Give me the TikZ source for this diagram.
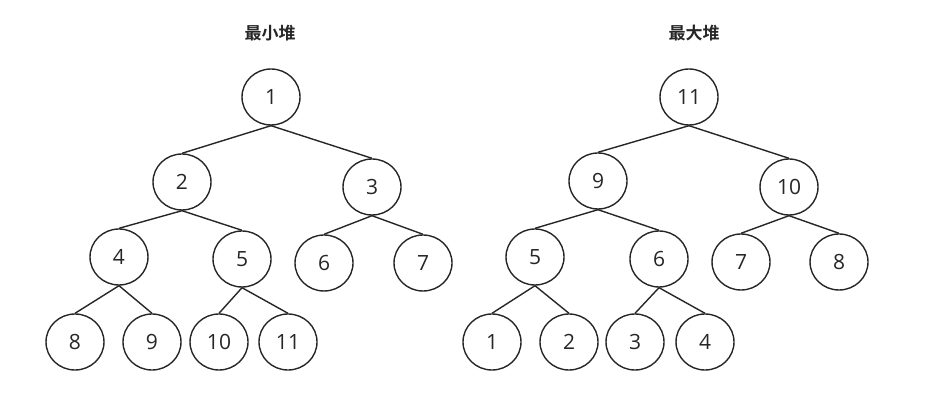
\documentclass[tikz,border=0pt]{standalone}
\usepackage{fontspec}
\setmainfont{Open Sans}
\newfontfamily\cjk{Noto Sans CJK SC}[BoldFont={Noto Sans CJK SC Bold}]
\usetikzlibrary{shapes.geometric}

\begin{document}
\begin{tikzpicture}[
  x=1pt, y=-1pt,
  key/.style={draw=black!85,ellipse,line width=1.4pt,minimum width=58pt,
              minimum height=56pt,inner sep=0pt,
              font=\fontsize{21}{21}\selectfont,text=black!85},
  title/.style={font=\cjk\bfseries\fontsize{17}{17}\selectfont,text=black!85},
  edge/.style={draw=black!85,line width=1.4pt}
]
\useasboundingbox (0,0) rectangle (931,419);
% min heap
\node[title] (mintitle) at (270,33) {最小堆};
\node[key] (min1) at (271,97) {1};
\node[key] (min2) at (182,182) {2};
\node[key] (min3) at (372,187) {3};
\node[key] (min4) at (119,257) {4};
\node[key] (min5) at (242,259) {5};
\node[key] (min6) at (324,263) {6};
\node[key] (min7) at (423,263) {7};
\node[key] (min8) at (75,342) {8};
\node[key] (min9) at (152,342) {9};
\node[key] (min10) at (219,342) {10};
\node[key] (min11) at (288,342) {11};
\draw[edge] (min1.south) -- (min2.north);
\draw[edge] (min1.south) -- (min3.north);
\draw[edge] (min2.south) -- (min4.north);
\draw[edge] (min2.south) -- (min5.north);
\draw[edge] (min3.south) -- (min6.north);
\draw[edge] (min3.south) -- (min7.north);
\draw[edge] (min4.south) -- (min8.north);
\draw[edge] (min4.south) -- (min9.north);
\draw[edge] (min5.south) -- (min10.north);
\draw[edge] (min5.south) -- (min11.north);
% max heap
\node[title] (maxtitle) at (694,33) {最大堆};
\node[key] (max11) at (689,97) {11};
\node[key] (max9) at (598,181) {9};
\node[key] (max10) at (789,187) {10};
\node[key] (max5) at (535,257) {5};
\node[key] (max6) at (659,259) {6};
\node[key] (max7) at (741,262) {7};
\node[key] (max8) at (839,262) {8};
\node[key] (max1) at (492,342) {1};
\node[key] (max2) at (569,342) {2};
\node[key] (max3) at (635,342) {3};
\node[key] (max4) at (705,342) {4};
\draw[edge] (max11.south) -- (max9.north);
\draw[edge] (max11.south) -- (max10.north);
\draw[edge] (max9.south) -- (max5.north);
\draw[edge] (max9.south) -- (max6.north);
\draw[edge] (max10.south) -- (max7.north);
\draw[edge] (max10.south) -- (max8.north);
\draw[edge] (max5.south) -- (max1.north);
\draw[edge] (max5.south) -- (max2.north);
\draw[edge] (max6.south) -- (max3.north);
\draw[edge] (max6.south) -- (max4.north);
\end{tikzpicture}
\end{document}
